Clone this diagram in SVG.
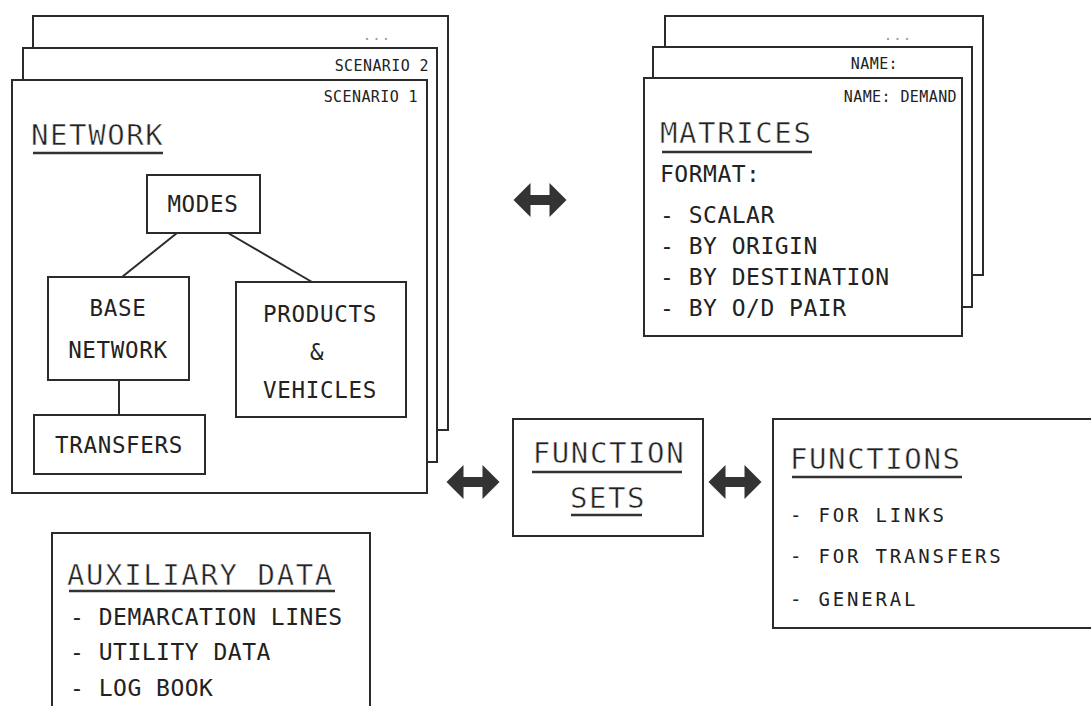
<svg xmlns="http://www.w3.org/2000/svg" width="1091" height="706" viewBox="0 0 1091 706">
  <style>
    .box { fill: #fff; stroke: #2b2b2b; stroke-width: 2; }
    .rule { stroke: #333; stroke-width: 2.5; }
    .link { stroke: #2b2b2b; stroke-width: 2; fill: none; }
    text { font-family: "DejaVu Sans Mono", "Liberation Mono", monospace; fill: #222; }
    .title { font-size: 29px; letter-spacing: 1.6px; stroke: #fff; stroke-width: 0.5px; }
    .label { font-size: 22.5px; letter-spacing: 0.7px; }
    .item { font-size: 23px; letter-spacing: 0.5px; }
    .small-item { font-size: 19px; letter-spacing: 2.8px; }
    .tag { font-size: 15px; letter-spacing: 0.4px; }
    .dots { font-size: 14px; fill: #999; letter-spacing: 1px; }
    .mid { text-anchor: middle; }
    .end { text-anchor: end; }
    .arrow { fill: #333; }
  </style>
  <defs>
    <path id="dbl-arrow" d="M -26.5,0 L -9.5,-17 L -9.5,-5 L 9.5,-5 L 9.5,-17 L 26.5,0 L 9.5,17 L 9.5,5 L -9.5,5 L -9.5,17 Z"/>
  </defs>

  <rect width="1091" height="706" fill="#fff"/>

  <!-- scenario stack with the network -->
  <g id="network">
    <rect class="box" x="33" y="16" width="415" height="414"/>
    <text class="dots mid" x="377" y="40">...</text>
    <rect class="box" x="23" y="48" width="414" height="414"/>
    <text class="tag end" x="429" y="71">SCENARIO 2</text>
    <rect class="box" x="12" y="80" width="415" height="413"/>
    <text class="tag end" x="418" y="102">SCENARIO 1</text>
    <text class="title" x="31" y="145">NETWORK</text>
    <line class="rule" x1="33" y1="153" x2="163" y2="153"/>
  </g>

  <g id="modes">
    <rect class="box" x="147" y="175" width="113" height="58"/>
    <text class="label mid" x="203" y="212">MODES</text>
  </g>

  <g id="base-network">
    <rect class="box" x="48" y="277" width="141" height="103"/>
    <text class="label mid" x="118" y="316">BASE</text>
    <text class="label mid" x="118" y="358">NETWORK</text>
  </g>

  <g id="products-vehicles">
    <rect class="box" x="236" y="282" width="170" height="135"/>
    <text class="label mid" x="320" y="322">PRODUCTS</text>
    <text class="label mid" x="317" y="360">&amp;</text>
    <text class="label mid" x="320" y="398">VEHICLES</text>
  </g>

  <g id="transfers">
    <rect class="box" x="34" y="415" width="171" height="59"/>
    <text class="label mid" x="119" y="453">TRANSFERS</text>
  </g>

  <!-- matrix stack -->
  <g id="matrices">
    <rect class="box" x="665" y="16" width="318" height="259"/>
    <text class="dots mid" x="898" y="40">...</text>
    <rect class="box" x="653" y="47" width="319" height="260"/>
    <text class="tag end" x="898" y="69">NAME:</text>
    <rect class="box" x="644" y="78" width="318" height="258"/>
    <text class="tag end" x="957" y="102">NAME: DEMAND</text>
    <text class="title" x="660" y="143">MATRICES</text>
    <line class="rule" x1="662" y1="152" x2="812" y2="152"/>
    <text class="item" x="660" y="182">FORMAT:</text>
    <text class="item" x="660" y="223">- SCALAR</text>
    <text class="item" x="660" y="254">- BY ORIGIN</text>
    <text class="item" x="660" y="285">- BY DESTINATION</text>
    <text class="item" x="660" y="316">- BY O/D PAIR</text>
  </g>

  <g id="function-sets">
    <rect class="box" x="513" y="419" width="190" height="117"/>
    <text class="title mid" x="609" y="463">FUNCTION</text>
    <line class="rule" x1="532" y1="472" x2="682" y2="472"/>
    <text class="title mid" x="608" y="508">SETS</text>
    <line class="rule" x1="571" y1="515" x2="642" y2="515"/>
  </g>

  <g id="functions">
    <rect class="box" x="773" y="419" width="330" height="209"/>
    <text class="title" x="790" y="469">FUNCTIONS</text>
    <line class="rule" x1="792" y1="477" x2="962" y2="477"/>
    <text class="small-item" x="790" y="522">- FOR LINKS</text>
    <text class="small-item" x="790" y="563">- FOR TRANSFERS</text>
    <text class="small-item" x="790" y="606">- GENERAL</text>
  </g>

  <g id="auxiliary-data">
    <rect class="box" x="52" y="533" width="318" height="190"/>
    <text class="title" x="67" y="585">AUXILIARY DATA</text>
    <line class="rule" x1="69" y1="591" x2="335" y2="591"/>
    <text class="item" x="70" y="625">- DEMARCATION LINES</text>
    <text class="item" x="70" y="660">- UTILITY DATA</text>
    <text class="item" x="70" y="696">- LOG BOOK</text>
  </g>

  <!-- connectors -->
  <g id="connectors">
    <line class="link" x1="177" y1="233" x2="122" y2="277"/>
    <line class="link" x1="228" y1="233" x2="312" y2="282"/>
    <line class="link" x1="119" y1="380" x2="119" y2="415"/>
    <use href="#dbl-arrow" class="arrow" transform="translate(540,200)"/>
    <use href="#dbl-arrow" class="arrow" transform="translate(473,482)"/>
    <use href="#dbl-arrow" class="arrow" transform="translate(735,482)"/>
  </g>
</svg>
